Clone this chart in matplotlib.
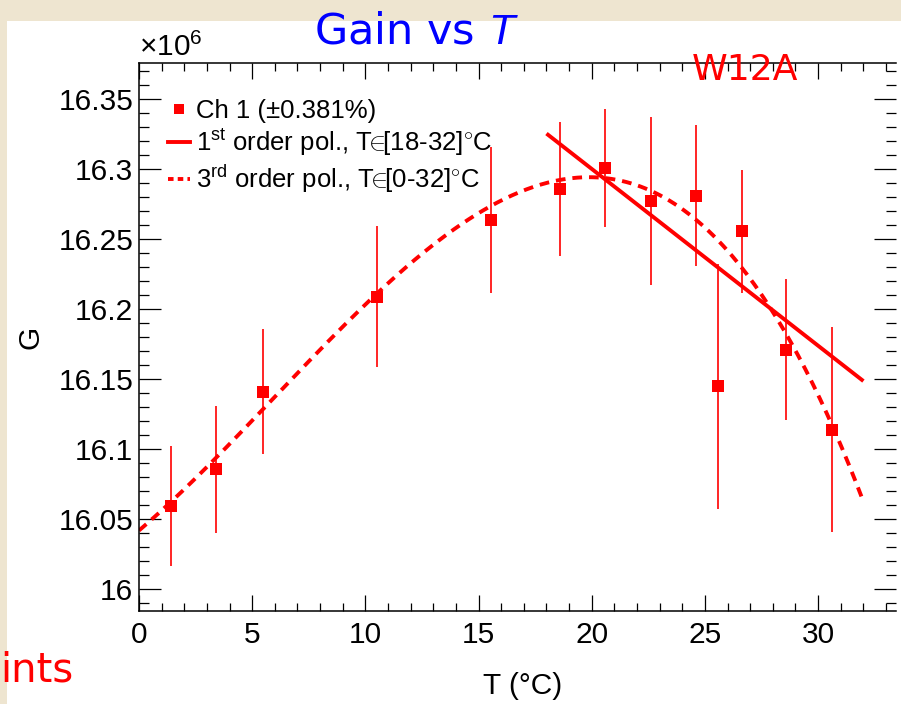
import matplotlib
matplotlib.use("Agg")
import matplotlib.pyplot as plt
import numpy as np
from matplotlib.patches import Rectangle
from matplotlib.ticker import MultipleLocator, FormatStrFormatter, FuncFormatter
from matplotlib.lines import Line2D

plt.rcParams["font.family"] = ["Liberation Sans", "DejaVu Sans"]
plt.rcParams["mathtext.fontset"] = "custom"
plt.rcParams["mathtext.rm"] = "Liberation Sans"
plt.rcParams["mathtext.it"] = "Liberation Sans:italic"
plt.rcParams["mathtext.bf"] = "Liberation Sans:bold"
plt.rcParams["lines.scale_dashes"] = False

# Gain measurements (units of 1e6) versus temperature, channel 1
temperature = [1.41, 3.42, 5.46, 10.52, 15.54, 18.59, 20.59, 22.60, 24.60, 25.56, 26.63, 28.59, 30.61]
gain = [16.0597, 16.0857, 16.1411, 16.2090, 16.2638, 16.2859, 16.3011, 16.2771,
        16.2811, 16.1450, 16.2557, 16.1711, 16.1140]
gain_err = [0.0428, 0.0454, 0.0448, 0.0505, 0.0519, 0.0476, 0.0421, 0.0600,
            0.0505, 0.0875, 0.0439, 0.0503, 0.0730]

# Fit results: linear on [18, 32] degC, cubic on [0, 32] degC
lin_range = [18.0, 32.0]
lin_coefs = [16.3255, -0.012627]          # G = p0 + p1*(T - 18)
cub_range = [0.0, 32.0]
cub_coefs = [16.042, 0.013802, 0.0005271, -2.932e-5]  # G = sum p_i T^i

x_ticks_major = 5
y_ticks_major = 0.05

red = "#FF0000"

fig = plt.figure(figsize=(9.01, 7.04), dpi=100)
fig.patch.set_facecolor("#EEE5D0")
fig.patches.append(Rectangle((7 / 901, 0), 1, 1 - 21 / 704, transform=fig.transFigure,
                             facecolor="white", edgecolor="none", zorder=-10))

ax = fig.add_axes([139 / 901, 1 - 611 / 704, (896 - 139) / 901, (611 - 63) / 704])
ax.set_facecolor("white")

ax.errorbar(temperature, gain, yerr=gain_err, fmt="s", color=red, ms=8, mew=0,
            elinewidth=1.2, capsize=0, zorder=3)

t_lin = np.linspace(lin_range[0], lin_range[1], 50)
g_lin = lin_coefs[0] + lin_coefs[1] * (t_lin - lin_range[0])
ax.plot(t_lin, g_lin, color=red, lw=2.8, solid_capstyle="butt", zorder=2)

t_cub = np.linspace(cub_range[0], cub_range[1], 300)
g_cub = np.polynomial.polynomial.polyval(t_cub, cub_coefs)
ax.plot(t_cub, g_cub, color=red, lw=2.8, dashes=(7, 5), zorder=2)

ax.set_xlim(0, 33.44)
ax.set_ylim(15.9845, 16.3759)

ax.xaxis.set_major_locator(MultipleLocator(x_ticks_major))
ax.xaxis.set_minor_locator(MultipleLocator(1))
ax.yaxis.set_major_locator(MultipleLocator(y_ticks_major))
ax.yaxis.set_minor_locator(MultipleLocator(0.01))
ax.xaxis.set_major_formatter(FormatStrFormatter("%g"))
ax.yaxis.set_major_formatter(FuncFormatter(lambda v, p: f"{v:.2f}".rstrip("0").rstrip(".")))

ax.tick_params(axis="both", which="both", direction="in", top=True, right=True,
               width=0.9, colors="black", labelsize=21.5)
ax.tick_params(axis="x", which="major", length=11.5, pad=7)
ax.tick_params(axis="x", which="minor", length=5.8)
ax.tick_params(axis="y", which="major", length=15.5, pad=4)
ax.tick_params(axis="y", which="minor", length=7.5)
for side in ["left", "bottom", "top"]:
    ax.spines[side].set_linewidth(1.1)
ax.spines["right"].set_visible(False)

ax.set_xlabel("T (°C)", fontsize=21.5)
ax.xaxis.set_label_coords(0.507, -0.163)
ax.xaxis.label.set_va("bottom")
ax.set_ylabel("G", fontsize=21.5)
ax.yaxis.set_label_coords(-0.125, 0.5)

ax.text(0.0, 1.002, r"$\times10^{6}$", transform=ax.transAxes, fontsize=21.5,
        ha="left", va="bottom")

handles = [
    Line2D([], [], color=red, marker="s", ls="none", ms=7, mew=0),
    Line2D([], [], color=red, lw=2.8),
    Line2D([], [], color=red, lw=2.8, dashes=(4, 3)),
]
labels = [
    "Ch 1 (±0.381%)",
    r"1$^{\rm st}$ order pol., T$\!\!\in\!\!$[18-32]$^{\circ}$C",
    r"3$^{\rm rd}$ order pol., T$\!\!\in\!\!$[0-32]$^{\circ}$C",
]
ax.legend(handles, labels, loc="upper left", bbox_to_anchor=(0.038, 0.935),
          frameon=False, fontsize=18.5, handlelength=0.85, handletextpad=0.25,
          labelspacing=0.18, borderaxespad=0, borderpad=0)

fig.text(416 / 901, 1 - 43 / 704, r"Gain vs $T$", color="#0000FF", fontsize=31,
         ha="center", va="baseline", family="DejaVu Sans")
fig.text(745 / 901, 1 - 80 / 704, "W12A", color=red, fontsize=26,
         ha="center", va="baseline", family="DejaVu Sans")
fig.text(0 / 901, 1 - 682 / 704, "ints", color=red, fontsize=29,
         ha="left", va="baseline", family="DejaVu Sans")

fig.savefig("out.png", dpi=100)
